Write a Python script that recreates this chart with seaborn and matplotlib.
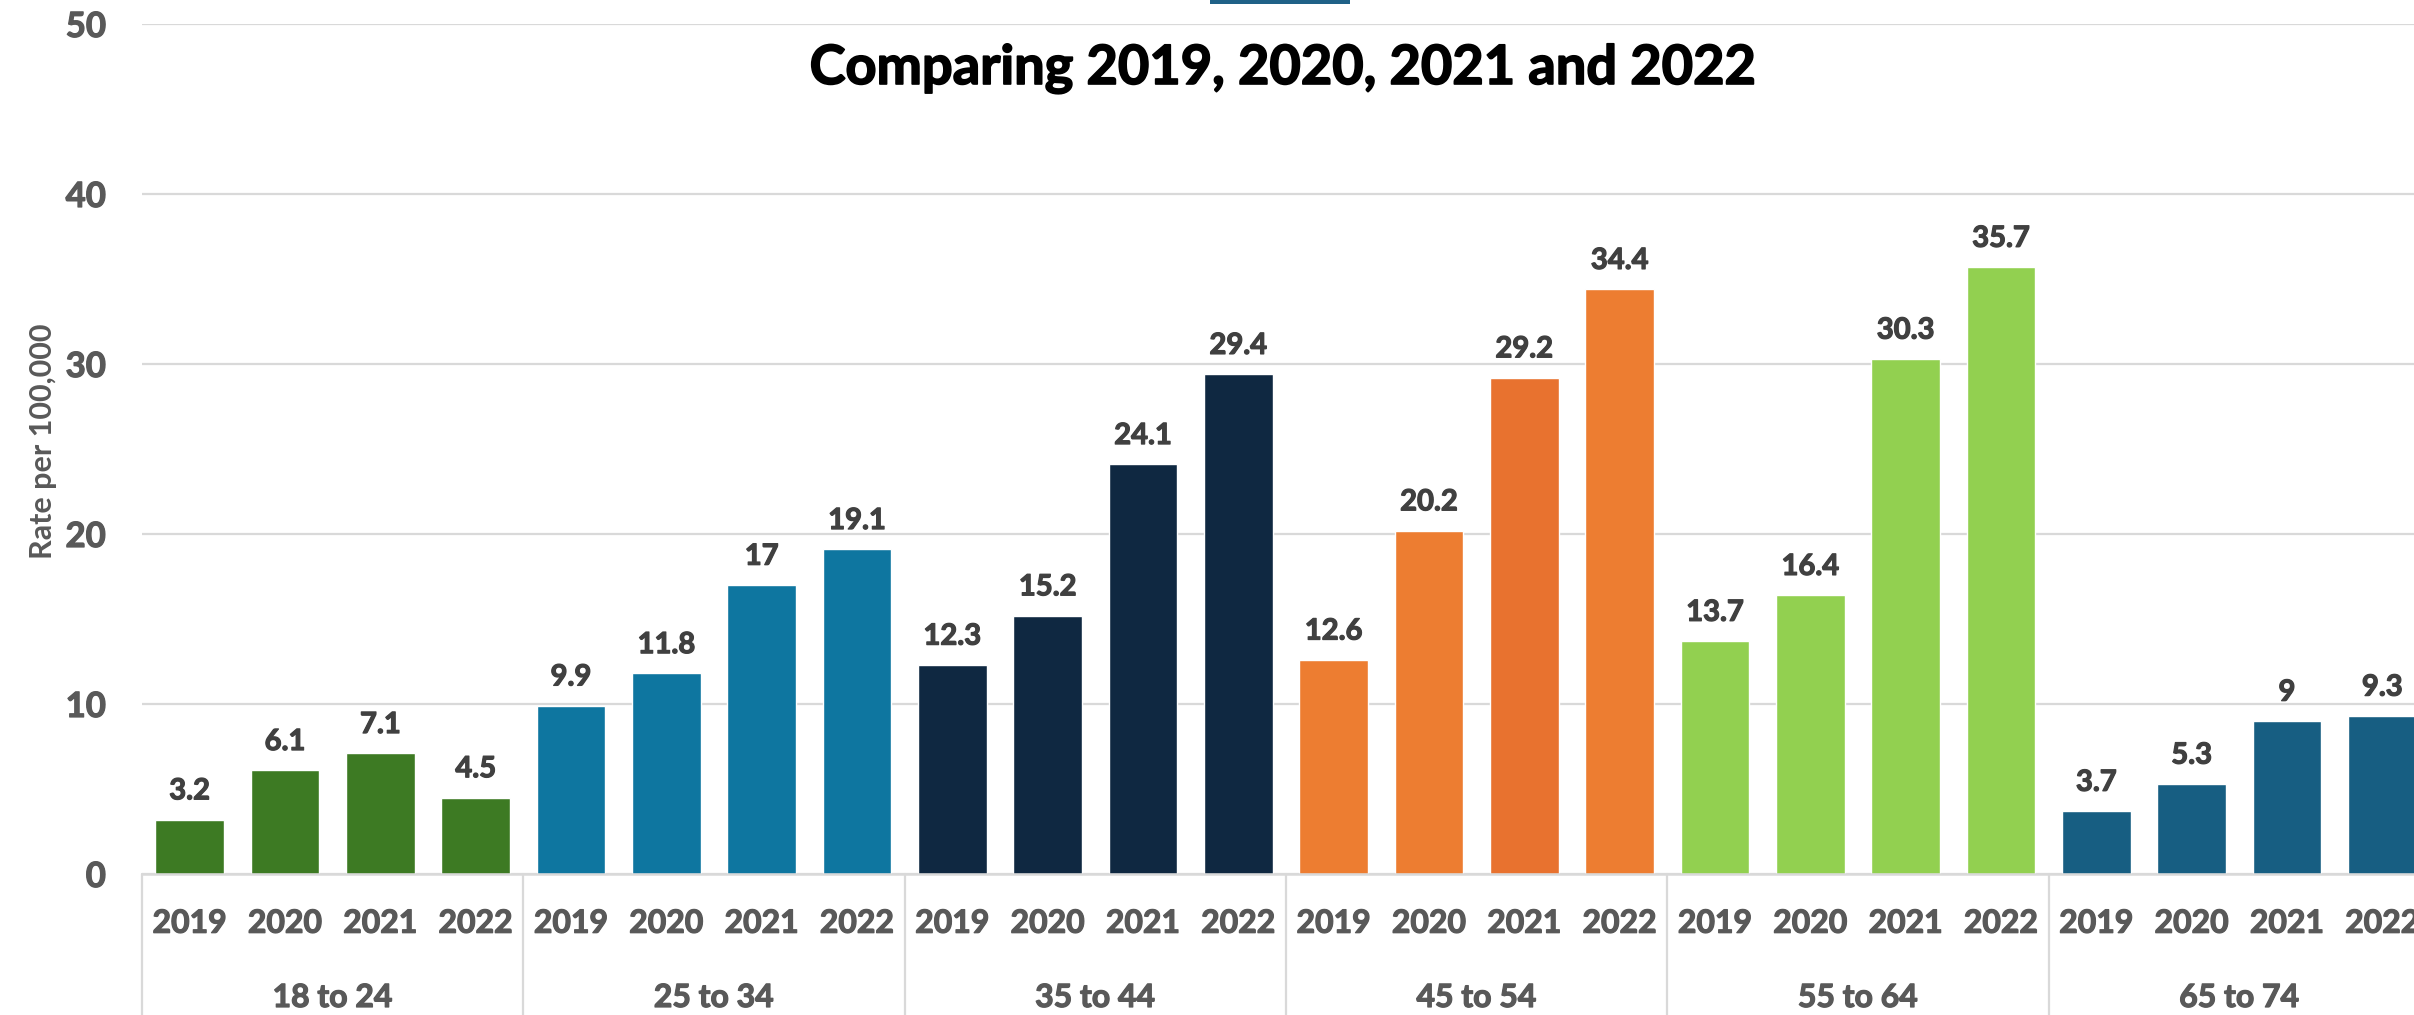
import matplotlib
matplotlib.use("Agg")
import matplotlib.pyplot as plt
import matplotlib.patches as mpatches
import matplotlib.patheffects as pe
import seaborn as sns
import pandas as pd

# ---- data -------------------------------------------------------------
age_groups = ["18 to 24", "25 to 34", "35 to 44", "45 to 54", "55 to 64", "65 to 74"]
years = ["2019", "2020", "2021", "2022"]

rate_18_24 = [3.2, 6.1, 7.1, 4.5]
rate_25_34 = [9.9, 11.8, 17, 19.1]
rate_35_44 = [12.3, 15.2, 24.1, 29.4]
rate_45_54 = [12.6, 20.2, 29.2, 34.4]
rate_55_64 = [13.7, 16.4, 30.3, 35.7]
rate_65_74 = [3.7, 5.3, 9, 9.3]

green = ["#3d7a23"] * 4
teal = ["#0e76a0"] * 4
navy = ["#0f2841"] * 4
orange = ["#ed7d31", "#ed7d31", "#e8722f", "#ed7d31"]
lime = ["#92d050"] * 4
steel = ["#175e82"] * 4

rates = [rate_18_24, rate_25_34, rate_35_44, rate_45_54, rate_55_64, rate_65_74]
colours = [green, teal, navy, orange, lime, steel]

rows = []
palette = {}
for g, vals, cols in zip(age_groups, rates, colours):
    for y, v, c in zip(years, vals, cols):
        key = f"{g}|{y}"
        rows.append({"key": key, "group": g, "year": y, "rate": v})
        palette[key] = c
df = pd.DataFrame(rows)

# ---- figure -----------------------------------------------------------
sns.set_theme(style="white")
plt.rcParams["font.family"] = ["Lato", "DejaVu Sans"]


def heavy(colour, width=0.9):
    # thicken strokes slightly so the labels read as a heavy bold
    return [pe.withStroke(linewidth=width, foreground=colour)]


W, H = 2414, 1015
fig = plt.figure(figsize=(W / 100, H / 100), dpi=100)
ax_left, ax_right, ax_top, ax_bottom = 142, 2430, 24, 874
ax = fig.add_axes([ax_left / W, (H - ax_bottom) / H,
                   (ax_right - ax_left) / W, (ax_bottom - ax_top) / H])

sns.barplot(data=df, x="key", y="rate", hue="key", palette=palette,
            dodge=False, width=0.72, legend=False, saturation=1, ax=ax)

ax.set_ylim(0, 50)
ax.set_xlim(-0.5, len(df) - 0.5)
ax.set_yticks(range(0, 51, 10))
ax.yaxis.grid(True, color="#d9d9d9", linewidth=1.6)
ax.set_axisbelow(True)
for side in ["left", "right", "top"]:
    ax.spines[side].set_visible(False)
ax.spines["bottom"].set_color("#d9d9d9")
ax.spines["bottom"].set_linewidth(1.8)
ax.spines["bottom"].set_zorder(5)

tick_grey = "#595959"
ax.set_xticks(range(len(df)))
ax.set_xticklabels(df["year"], fontsize=23, fontweight="bold", color=tick_grey)
ax.tick_params(axis="x", length=0, pad=25)
ax.tick_params(axis="y", length=0, pad=26, labelsize=25, labelcolor=tick_grey)
for t in ax.get_yticklabels() + ax.get_xticklabels():
    t.set_fontweight("bold")
    t.set_path_effects(heavy(tick_grey))

ax.set_xlabel("")
ax.set_ylabel("Rate per 100,000", fontsize=22, fontweight="bold", color=tick_grey)
ax.yaxis.label.set_va("center")
ax.yaxis.set_label_coords((43 - ax_left) / (ax_right - ax_left),
                          (ax_bottom - 441) / (ax_bottom - ax_top))

# value labels on every bar
for cont in ax.containers:
    labels = ax.bar_label(cont, fmt="{:g}", padding=11, fontsize=21,
                          fontweight="bold", color="#404040")
    for lab in labels:
        lab.set_path_effects(heavy("#404040"))

# group labels and separators below the axis
trans = ax.get_xaxis_transform()
n = len(years)
for i, g in enumerate(age_groups):
    centre = i * n + (n - 1) / 2
    ax.text(centre, -(1007 - ax_bottom) / (ax_bottom - ax_top), g,
            transform=trans, ha="center", va="baseline", fontsize=23,
            fontweight="bold", color=tick_grey, path_effects=heavy(tick_grey))
for b in range(len(age_groups) + 1):
    ax.plot([b * n - 0.5, b * n - 0.5], [0, -0.3], transform=trans,
            color="#d9d9d9", linewidth=1.6, clip_on=False)

# title
fig.text(1282 / W, 1 - 84 / H, "Comparing 2019, 2020, 2021 and 2022",
         ha="center", va="baseline", fontsize=39, fontweight="bold",
         color="black", path_effects=heavy("black", 1.2))

# legend swatch peeking in at the top edge
fig.patches.append(mpatches.Rectangle((1210 / W, 1 - 4 / H), 140 / W, 6 / H,
                                      transform=fig.transFigure,
                                      facecolor="#1f6187", edgecolor="none"))

fig.savefig("out.png", dpi=100)
